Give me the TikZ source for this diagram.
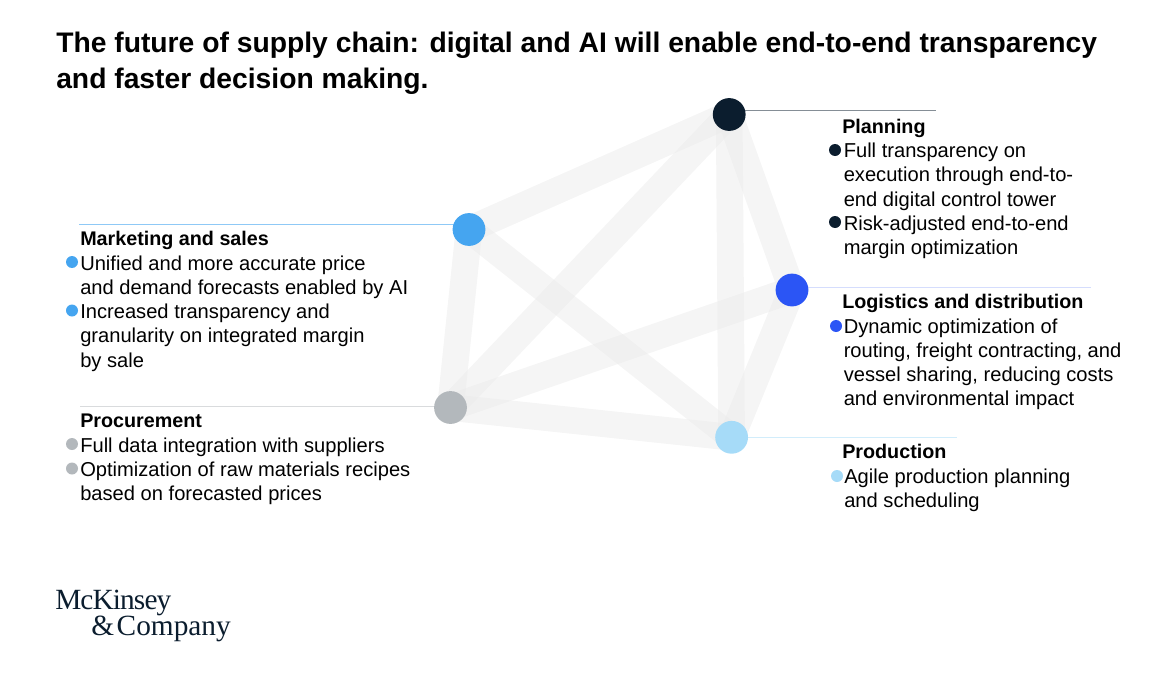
\documentclass[tikz,border=0pt]{standalone}
\usepackage{fontspec}
\setmainfont{Liberation Sans}
\newfontfamily\logofont{Liberation Serif}
\newfontfamily\logotight[LetterSpace=-3]{Liberation Serif}
\usetikzlibrary{backgrounds}
\definecolor{navy}{HTML}{0B1D2E}
\definecolor{sky}{HTML}{45A5F0}
\definecolor{royal}{HTML}{2B55F5}
\definecolor{steel}{HTML}{B3B8BC}
\definecolor{pale}{HTML}{A6DBF8}
\definecolor{bandgray}{gray}{0.92}
\tikzset{
	hub/.style={circle, minimum size=24.6pt, inner sep=0pt},
	dot/.style={circle, minimum size=9pt, inner sep=0pt},
	band/.style={line width=20pt, color=bandgray, opacity=0.5},
	leader/.style={line width=0.7pt},
	head/.style={anchor=base west, inner sep=0pt, font=\fontsize{14.8}{18}\selectfont\bfseries},
	body/.style={anchor=north west, inner sep=0pt, align=left, font=\fontsize{15.1}{18.2}\selectfont},
}
\begin{document}
\begin{tikzpicture}[x=0.75pt, y=-0.75pt]
		\useasboundingbox (0,0) rectangle (1160,674);
		% title
		\node[anchor=north west, inner sep=0pt, align=left, font=\fontsize{21.2}{27}\selectfont\bfseries] (title) at (56,31.4) {The future of supply chain: digital and AI will enable end-to-end transparency\\and faster decision making.};
		% hubs
		\node[hub, fill=navy] (planning) at (729.2,114.5) {};
		\node[hub, fill=sky] (marketing) at (469,229.5) {};
		\node[hub, fill=royal] (logistics) at (792,290) {};
		\node[hub, fill=steel] (procurement) at (450.5,407.5) {};
		\node[hub, fill=pale] (production) at (731.6,437.3) {};
		% free ends of the leaders
		\coordinate (planningend) at (936,110.5);
		\coordinate (marketingend) at (79,224);
		\coordinate (logisticsend) at (1091,287.5);
		\coordinate (procurementend) at (80,406);
		\coordinate (productionend) at (957,437.5);
		\begin{scope}[on background layer]
			\foreach \a/\b in {planning/marketing, planning/procurement, planning/production, planning/logistics, marketing/procurement, marketing/production, logistics/procurement, logistics/production, procurement/production} {
				\draw[band] (\a.center) -- (\b.center);
			}
			\draw[leader, color=navy!50] (planning.center |- planningend) -- (planningend);
			\draw[leader, color=sky!60] (marketing.center |- marketingend) -- (marketingend);
			\draw[leader, color=royal!20] (logistics.center |- logisticsend) -- (logisticsend);
			\draw[leader, color=steel!50] (procurement.center |- procurementend) -- (procurementend);
			\draw[leader, color=pale!50] (production.center |- productionend) -- (productionend);
		\end{scope}
		% planning
		\node[head] (planninghead) at (842,133) {Planning};
		\node[dot, fill=navy] (planningdot1) at (835,150) {};
		\node[dot, fill=navy] (planningdot2) at (835,222) {};
		\node[body] (planningtext1) at (843.5,142.8) {Full transparency on\\execution through end-to-\\end digital control tower};
		\node[body] (planningtext2) at (843.5,215.3) {Risk-adjusted end-to-end\\margin optimization};
		% logistics
		\node[head] (logisticshead) at (842,308.5) {Logistics and distribution};
		\node[dot, fill=royal] (logisticsdot) at (836,326) {};
		\node[body] (logisticstext) at (843.5,318.3) {Dynamic optimization of\\routing, freight contracting, and\\vessel sharing, reducing costs\\and environmental impact};
		% production
		\node[head] (productionhead) at (842,458.5) {Production};
		\node[dot, fill=pale] (productiondot) at (837,476) {};
		\node[body] (productiontext) at (844,468.3) {Agile production planning\\and scheduling};
		% marketing
		\node[head] (marketinghead) at (80,245.5) {Marketing and sales};
		\node[dot, fill=sky] (marketingdot1) at (72,262) {};
		\node[dot, fill=sky] (marketingdot2) at (72,310.5) {};
		\node[body] (marketingtext1) at (80,255.3) {Unified and more accurate price\\and demand forecasts enabled by AI};
		\node[body] (marketingtext2) at (80,303.8) {Increased transparency and\\granularity on integrated margin\\by sale};
		% procurement
		\node[head] (procurementhead) at (80,427) {Procurement};
		\node[dot, fill=steel] (procurementdot1) at (72,444) {};
		\node[dot, fill=steel] (procurementdot2) at (72,468.5) {};
		\node[body] (procurementtext1) at (80,437.3) {Full data integration with suppliers};
		\node[body] (procurementtext2) at (80,461.3) {Optimization of raw materials recipes\\based on forecasted prices};
		% logo
		\node[anchor=base west, inner sep=0pt, color=navy, font=\logotight\fontsize{22}{22}\selectfont] (logo1) at (55,609) {McKinsey};
		\node[anchor=base west, inner sep=0pt, color=navy, font=\logofont\fontsize{22}{22}\selectfont] (logo2) at (91,635) {\&\kern2pt Company};
	\end{tikzpicture}
\end{document}
